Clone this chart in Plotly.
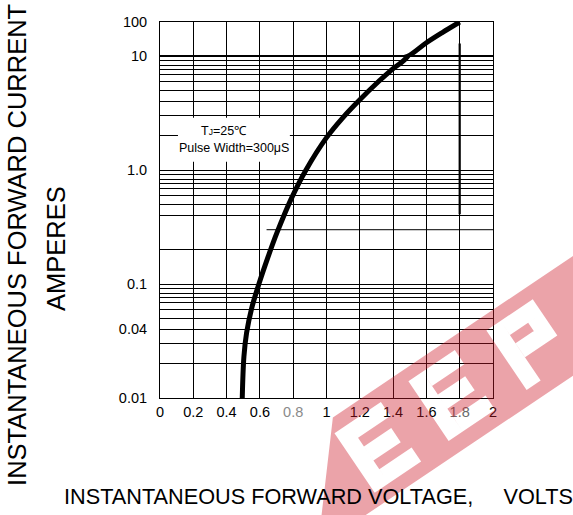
import math
import plotly.graph_objects as go
from plotly.subplots import make_subplots

# ---- data ----
voltage = [0.494, 0.504, 0.520, 0.550, 0.594, 0.648, 0.702, 0.790, 0.876,
           1.0, 1.1, 1.2, 1.3, 1.4, 1.488, 1.6, 1.7, 1.8]
current = [0.01, 0.0231, 0.0373, 0.061, 0.1, 0.1714, 0.281, 0.568, 1.0,
           1.93, 2.91, 4.15, 5.76, 7.77, 10, 24.8, 50.8, 100]

spike_v = [1.8, 1.8]
spike_i = [0.41, 23.5]

x_ticks = [0, 0.2, 0.4, 0.6, 0.8, 1.0, 1.2, 1.4, 1.6, 1.8, 2.0]
x_labels = ["0", "0.2", "0.4", "0.6", "<span style='color:#8a8a8a'>0.8</span>", "1",
            "1.2", "1.4", "1.6", "<span style='color:#6a6a6a'>1.8</span>", "2"]
y_low_ticks = [0.01, 0.04, 0.1, 1]
y_low_labels = ["0.01", "0.04", "0.1", "1.0"]
y_high_ticks = [10, 100]
y_high_labels = ["10", "100"]

FONT = "Liberation Sans, Arial, sans-serif"

# minor grid lines per decade (hand-drawn grid spacing)
mult = [2, 3, 4, 5, 6, 6.9, 7.6, 8.3, 9.1]
minor_vals = []
for dec in [0.01, 0.1, 1]:
    for m in mult:
        v = round(dec * m, 6)
        if v in (0.04, 0.3):
            continue
        minor_vals.append(v)

fig = make_subplots(rows=2, cols=1, shared_xaxes=True, vertical_spacing=0,
                    row_heights=[0.091, 0.909])

for r in (1, 2):
    fig.add_trace(go.Scatter(x=voltage, y=current, mode="lines",
                             line=dict(color="black", width=5, shape="spline", smoothing=1.0),
                             showlegend=False, hoverinfo="skip"), row=r, col=1)
    fig.add_trace(go.Scatter(x=spike_v, y=spike_i, mode="lines",
                             line=dict(color="black", width=2.2),
                             showlegend=False, hoverinfo="skip"), row=r, col=1)

axis_common = dict(showline=True, linecolor="black", linewidth=1, mirror=True,
                   showgrid=True, gridcolor="black", gridwidth=1, zeroline=False,
                   ticks="")
fig.update_xaxes(range=[0, 2], tickvals=x_ticks, **axis_common)
fig.update_xaxes(showticklabels=False, row=1, col=1)
fig.update_xaxes(ticktext=x_labels, tickfont=dict(family=FONT, size=14.5, color="black"),
                 ticklabelstandoff=1, row=2, col=1)

fig.update_yaxes(type="log", range=[1, 2], tickvals=y_high_ticks, ticktext=y_high_labels,
                 tickfont=dict(family=FONT, size=14.5, color="black"),
                 ticklabelstandoff=9, row=1, col=1, **axis_common)
fig.update_yaxes(type="log", range=[-2, 1], tickvals=y_low_ticks, ticktext=y_low_labels,
                 tickfont=dict(family=FONT, size=14.5, color="black"),
                 ticklabelstandoff=9,
                 minor=dict(tickvals=minor_vals, showgrid=True, gridcolor="black",
                            gridwidth=1, ticks=""),
                 row=2, col=1, **axis_common)

# partial 0.3 A grid line and the white condition box
fig.add_shape(type="line", xref="x2", yref="y2", x0=0.64, x1=2.0, y0=0.3, y1=0.3,
              line=dict(color="black", width=1), layer="between")
fig.add_shape(type="rect", xref="x2", yref="y2", x0=0.108, x1=0.78, y0=1.187, y1=2.887,
              fillcolor="white", line=dict(width=0), layer="above")

fig.add_annotation(xref="x2", yref="y2", x=0.384, y=math.log10(2.22),
                   text="T<span style='font-size:8.5px'>J</span>=25\u2103",
                   showarrow=False, font=dict(family=FONT, size=12.5, color="black"))
fig.add_annotation(xref="x2", yref="y2", x=0.446, y=math.log10(1.575),
                   text="Pulse Width=300\u03bcS",
                   showarrow=False, font=dict(family=FONT, size=12.5, color="black"))

# ---- page geometry helpers (pixel -> paper) ----
L, R, T, B = 160, 79.7, 21.7, 116.5
W, H = 573, 515
PW, PH = W - L - R, H - T - B


def px(xp):
    return (xp - L) / PW


def py(yp):
    return (H - B - yp) / PH


# axis titles
fig.add_annotation(xref="paper", yref="paper", x=px(62), y=py(497.5), xanchor="left",
                   yanchor="middle", showarrow=False,
                   text="INSTANTANEOUS FORWARD VOLTAGE," + "\u00a0" * 5 + "VOLTS",
                   font=dict(family=FONT, size=21.7, color="black"))
fig.add_annotation(xref="paper", yref="paper", x=px(17), y=py(245), textangle=-90,
                   xanchor="center", yanchor="middle", showarrow=False,
                   text="INSTANTANEOUS FORWARD CURRENT",
                   font=dict(family=FONT, size=25.5, color="black"))
fig.add_annotation(xref="paper", yref="paper", x=px(56), y=py(249), textangle=-90,
                   xanchor="center", yanchor="middle", showarrow=False,
                   text="AMPERES", font=dict(family=FONT, size=25.5, color="black"))

# ---- watermark: translucent band with letter-shaped holes ----
th = math.radians(34)
eu = (math.cos(th), -math.sin(th))
ev = (-math.sin(th), -math.cos(th))


def sub(pts):
    return "M " + " L ".join(f"{px(a):.4f},{py(b):.4f}" for a, b in pts) + " Z"


def rect_local(c, u0, u1, v0, v1):
    pts = []
    for u, v in [(u0, v0), (u1, v0), (u1, v1), (u0, v1)]:
        pts.append((c[0] + u * eu[0] + v * ev[0], c[1] + u * eu[1] + v * ev[1]))
    return sub(pts)


band = [(333, 418), (650, 204.6), (650, 324.6), (318, 548)]
parts = [sub(band)]
h, w, s = 72, 56, 17
for ch, c in [("E", (378, 448)), ("E", (452, 396)), ("P", (530, 345))]:
    parts.append(rect_local(c, -w / 2, -w / 2 + s, -h / 2, h / 2))
    if ch == "E":
        parts.append(rect_local(c, -w / 2 + s, w / 2, h / 2 - s, h / 2))
        parts.append(rect_local(c, -w / 2 + s, w / 2 - 6, -s / 2, s / 2))
        parts.append(rect_local(c, -w / 2 + s, w / 2, -h / 2, -h / 2 + s))
    else:
        parts.append(rect_local(c, -w / 2 + s, w / 2, h / 2 - s, h / 2))
        parts.append(rect_local(c, w / 2 - s, w / 2, -8, h / 2 - s))
        parts.append(rect_local(c, -w / 2 + s, w / 2 - s, -8, -8 + s))
fig.add_shape(type="path", xref="paper", yref="paper", path=" ".join(parts),
              fillrule="evenodd", fillcolor="rgba(205,25,40,0.4)", line=dict(width=0),
              layer="above")

fig.update_layout(width=W, height=H, margin=dict(l=L, r=R, t=T, b=B),
                  paper_bgcolor="white", plot_bgcolor="white", showlegend=False)

fig.write_html("out.html", config={"displayModeBar": False},
               post_script="document.body.style.margin='0';")
